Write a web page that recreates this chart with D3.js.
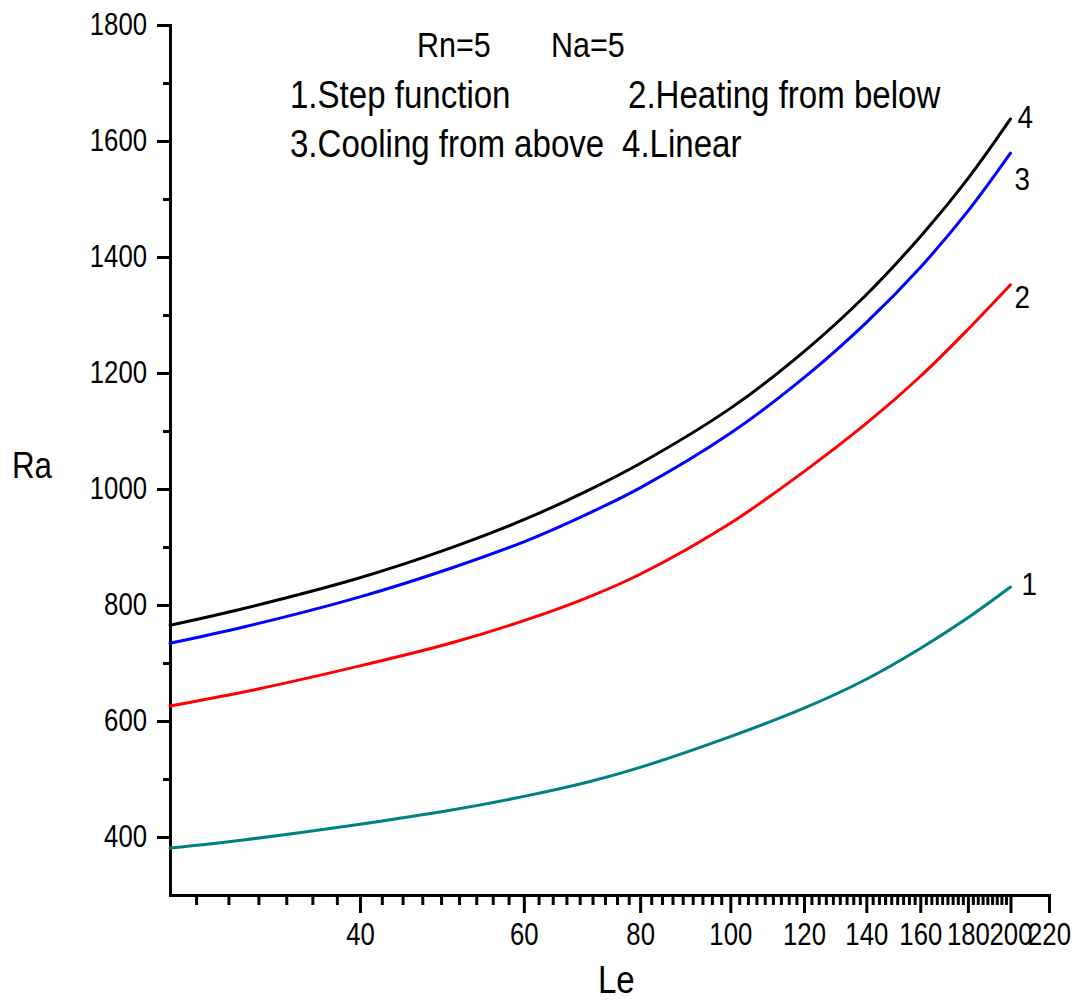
<!DOCTYPE html>
<html>
<head>
<meta charset="utf-8">
<script src="https://cdn.jsdelivr.net/npm/d3@7"></script>
<style>
    body { margin: 0; background: #fff; }
    text { font-family: "Liberation Sans", Arial, sans-serif; fill: #000; }
</style>
</head>
<body>
<div id="grafico"></div>
<script>
// Valores (Le en eje log, Ra en eje lineal)
var le = [25, 30, 40, 50, 60, 70, 80, 100, 120, 140, 160, 180, 200];
var raStep = [381, 395, 422, 446, 470, 494, 520, 573, 622, 672, 725, 778, 831];
var raHeating = [626, 650, 695, 734, 773, 812, 853, 941, 1030, 1113, 1194, 1275, 1352];
var raCooling = [734, 762, 814, 863, 909, 956, 1002, 1096, 1192, 1287, 1382, 1479, 1579];
var raLinear = [765, 794, 847, 898, 947, 996, 1044, 1139, 1237, 1335, 1435, 1535, 1638];

var numeros = ["1", "2", "3", "4"];
var colores = ["#008080", "#ff0000", "#0000ff", "#000000"];

var ticksX = [40, 60, 80, 100, 120, 140, 160, 180, 200, 220];
var ticksY = [400, 600, 800, 1000, 1200, 1400, 1600, 1800];
var ticksYmenor = [500, 700, 900, 1100, 1300, 1500, 1700];

var titulo = "Rn=5";
var titulo2 = "Na=5";
var leyenda = ["1.Step function", "2.Heating from below", "3.Cooling from above", "4.Linear"];

// Configuracion
var ancho = 1078, alto = 1003;
var margin = { top: 25, right: 29, bottom: 108, left: 170 };

var svg = d3.select("#grafico").append("svg")
    .attr("width", ancho)
    .attr("height", alto);

svg.append("rect").attr("width", ancho).attr("height", alto).attr("fill", "#fff");

var x = d3.scaleLog()
    .domain([25, 220])
    .range([margin.left, ancho - margin.right]);

var y = d3.scaleLinear()
    .domain([300, 1800])
    .range([alto - margin.bottom, margin.top]);

// Ticks menores del eje X: 8 entre cada par de mayores
var ticksXmenor = [];
for (var k = 0; k < 9; k++) {
    for (var j = 1; j < 9; j++) {
        var v = 20 + k * 20 + j * 20 / 9;
        if (v > 25 && v < 220) ticksXmenor.push(v);
    }
}

function estilarEje(g) {
    g.attr("font-size", null).attr("font-family", null);
    g.selectAll("path, line").attr("stroke", "#000").attr("stroke-width", 3);
    g.select(".domain").attr("stroke-linecap", "square");
}

// Texto estrechado horizontalmente (el original esta algo comprimido)
function estrechar(sel, f) {
    f = f || 0.87;
    sel.each(function () {
        var t = d3.select(this);
        var xx = +t.attr("x") || 0;
        t.attr("x", xx / f).attr("transform", "scale(" + f + ",1)");
    });
}

// Eje X
svg.append("g")
    .attr("transform", "translate(0," + y(300) + ")")
    .call(d3.axisBottom(x).tickValues(ticksXmenor).tickSize(10).tickSizeOuter(0).tickFormat(""))
    .call(estilarEje);

var ejeX = svg.append("g")
    .attr("transform", "translate(0," + y(300) + ")")
    .call(d3.axisBottom(x).tickValues(ticksX).tickSize(18).tickSizeOuter(0).tickPadding(10).tickFormat(d3.format("d")))
    .call(estilarEje);
ejeX.selectAll("text").style("font-size", "31px").call(estrechar, 0.83);

// Eje Y
svg.append("g")
    .attr("transform", "translate(" + x(25) + ",0)")
    .call(d3.axisLeft(y).tickValues(ticksYmenor).tickSize(7).tickSizeOuter(0).tickFormat(""))
    .call(estilarEje);

var ejeY = svg.append("g")
    .attr("transform", "translate(" + x(25) + ",0)")
    .call(d3.axisLeft(y).tickValues(ticksY).tickSize(13).tickSizeOuter(0).tickPadding(10).tickFormat(d3.format("d")))
    .call(estilarEje);
ejeY.selectAll("text").style("font-size", "31px").call(estrechar, 0.83);

// Curvas
var series = [raStep, raHeating, raCooling, raLinear].map(function (vals, i) {
    return {
        nombre: numeros[i],
        color: colores[i],
        puntos: vals.map(function (r, n) { return { le: le[n], ra: r }; })
    };
});

var linea = d3.line()
    .x(function (d) { return x(d.le); })
    .y(function (d) { return y(d.ra); })
    .curve(d3.curveCatmullRom.alpha(0.5));

svg.selectAll(".curva")
    .data(series)
    .enter().append("path")
    .attr("class", "curva")
    .attr("d", function (d) { return linea(d.puntos); })
    .attr("fill", "none")
    .attr("stroke", function (d) { return d.color; })
    .attr("stroke-width", 3)
    .attr("stroke-linecap", "round");

// Numeros al final de cada curva
var dxNum = [11, 4, 4, 7];
var dyNum = [8, 23, 37, 9];
svg.selectAll(".num")
    .data(series)
    .enter().append("text")
    .attr("class", "num")
    .attr("x", function (d, i) { return x(200) + dxNum[i]; })
    .attr("y", function (d, i) { return y(d.puntos[d.puntos.length - 1].ra) + dyNum[i]; })
    .style("font-size", "32px")
    .text(function (d) { return d.nombre; })
    .call(estrechar);

// Titulos de los ejes
svg.append("text").attr("x", 12).attr("y", 478).style("font-size", "36px").text("Ra").call(estrechar);
svg.append("text").attr("x", 598).attr("y", 993).style("font-size", "38px").text("Le").call(estrechar);

// Leyenda de texto
svg.append("text").attr("x", 417).attr("y", 57).style("font-size", "35px").text(titulo).call(estrechar);
svg.append("text").attr("x", 551).attr("y", 57).style("font-size", "35px").text(titulo2).call(estrechar);

var posLeyenda = [[290, 108], [628, 108], [290, 157], [622, 157]];
leyenda.forEach(function (t, i) {
    svg.append("text")
        .attr("x", posLeyenda[i][0])
        .attr("y", posLeyenda[i][1])
        .style("font-size", "38px")
        .text(t)
        .call(estrechar);
});
</script>
</body>
</html>
